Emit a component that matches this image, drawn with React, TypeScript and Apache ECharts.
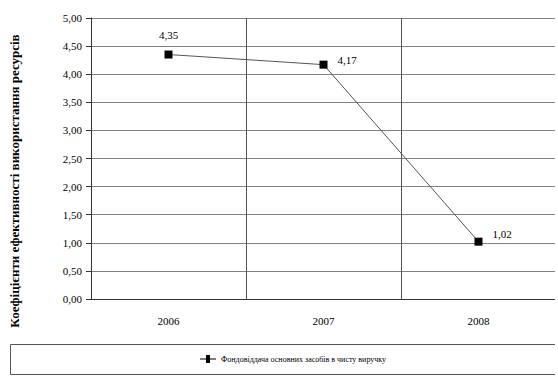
import React, { useEffect, useRef } from "react";
import * as echarts from "echarts";

const years = ["2006", "2007", "2008"];
const values = [4.35, 4.17, 1.02];
const seriesName = "Фондовіддача основних засобів в чисту виручку";
const yAxisName = "Коефіцієнти ефективності використання ресурсів";

const FONT = "Liberation Serif";

export default function App() {
  const ref = useRef<HTMLDivElement>(null);
  useEffect(() => {
    if (!ref.current) return;
    const chart = echarts.init(ref.current, null, { renderer: "svg" });
    const labelPos: any[] = [
      { position: "top", distance: 10 },
      { position: "right", distance: 10, offset: [0, -5] },
      { position: "right", distance: 10, offset: [0, -8] },
    ];
    chart.setOption({
      animation: false,
      backgroundColor: "#ffffff",
      textStyle: { fontFamily: FONT },
      grid: { left: 91, width: 465, top: 18, bottom: 78, containLabel: false },
      xAxis: {
        type: "category",
        data: years,
        boundaryGap: true,
        axisLine: { show: true, lineStyle: { color: "#333", width: 1 } },
        axisTick: { show: false },
        axisLabel: { color: "#000", fontSize: 11, fontFamily: FONT, margin: 16 },
        splitLine: { show: true, lineStyle: { color: "#555", width: 1 } },
      },
      yAxis: {
        type: "value",
        min: 0,
        max: 5,
        interval: 0.5,
        axisLine: { show: true, lineStyle: { color: "#333", width: 1 } },
        axisTick: { show: true, length: 5, inside: false, lineStyle: { color: "#333" } },
        axisLabel: {
          color: "#000",
          fontSize: 11,
          fontFamily: FONT,
          margin: 9,
          formatter: (v: number) => v.toFixed(2).replace(".", ","),
        },
        splitLine: { show: true, lineStyle: { color: "#808080", width: 1 } },
      },
      legend: {
        left: 195,
        top: 350,
        itemWidth: 16,
        itemHeight: 8,
        itemGap: 4,
        textStyle: { fontSize: 8, color: "#000", fontFamily: FONT },
        data: [{ name: seriesName, icon: "path://M0,3.5L6,3.5L6,0L10,0L10,3.5L16,3.5L16,4.5L10,4.5L10,8L6,8L6,4.5L0,4.5Z" }],
      },
      graphic: [
        {
          type: "rect",
          z: 100,
          shape: { x: 555, y: 0, width: 4, height: 340 },
          style: { fill: "#ffffff", stroke: "none" },
          silent: true,
        },
        {
          type: "polyline",
          shape: { points: [[555, 344.5], [10.5, 344.5], [10.5, 374.5], [555, 374.5]] },
          style: { fill: "none", stroke: "#555", lineWidth: 1 },
          silent: true,
        },
        {
          type: "text",
          x: 14,
          y: 181,
          rotation: Math.PI / 2,
          style: {
            text: yAxisName,
            fill: "#000",
            font: "bold 13px Liberation Serif",
            align: "center",
            verticalAlign: "middle",
          },
          silent: true,
        },
      ],
      series: [
        {
          name: seriesName,
          type: "line",
          data: values.map((v, i) => ({ value: v, label: labelPos[i] })),
          symbol: "rect",
          symbolSize: 8,
          itemStyle: { color: "#000" },
          lineStyle: { color: "#555", width: 1 },
          label: {
            show: true,
            color: "#000",
            fontSize: 11,
            fontFamily: FONT,
            formatter: (p: any) => p.value.toFixed(2).replace(".", ","),
          },
        },
      ],
    });
    return () => chart.dispose();
  }, []);
  return (
    <div
      ref={ref}
      style={{ position: "fixed", left: 0, top: 0, width: 558, height: 377 }}
    />
  );
}
